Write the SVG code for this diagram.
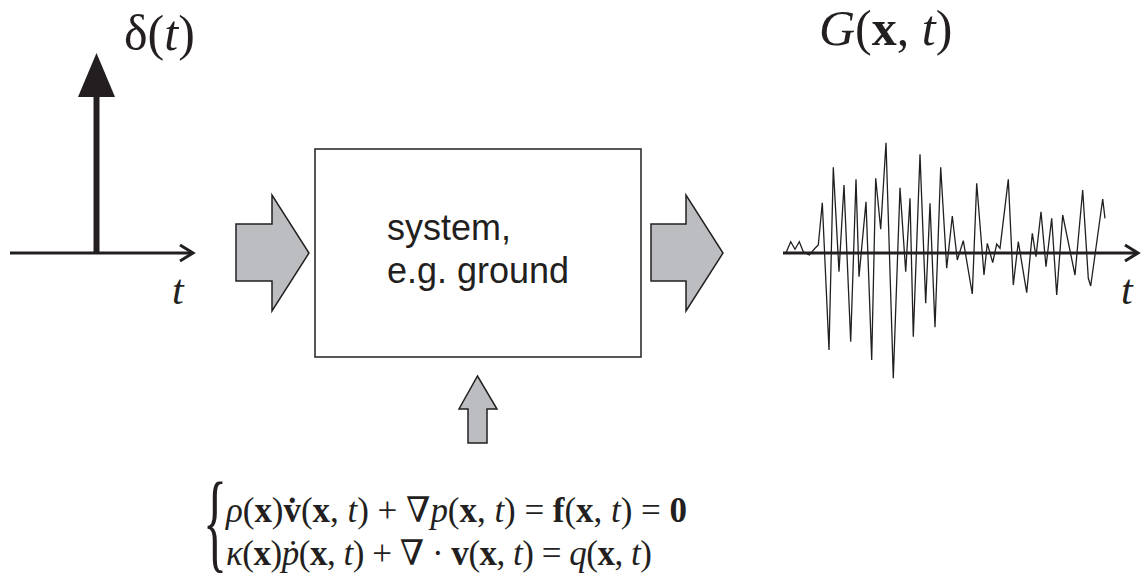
<svg xmlns="http://www.w3.org/2000/svg" width="1143" height="587" viewBox="0 0 1143 587">
<style>
.ink{stroke:#231f20;fill:none}
.block{fill:#bcbdc0;stroke:#231f20;stroke-width:1.5;stroke-linejoin:miter}
.serif{font-family:"Liberation Serif","DejaVu Serif",serif;fill:#231f20}
.sans{font-family:"Liberation Sans",Arial,sans-serif;fill:#231f20}
.it{font-style:italic}
.bf{font-weight:bold}
</style>
<rect width="1143" height="587" fill="#ffffff"/>

<g id="input-signal">
  <line class="ink" x1="10" y1="253" x2="192" y2="253" stroke-width="3"/>
  <polyline class="ink" points="180,245 193,253 180,261" stroke-width="3"/>
  <line class="ink" x1="96.5" y1="253" x2="96.5" y2="92" stroke-width="6"/>
  <polygon points="96.5,53 78,97 115,97" fill="#231f20"/>
  <text class="serif" x="124" y="50" font-size="50">δ(<tspan class="it">t</tspan>)</text>
  <text class="serif it" x="172" y="304" font-size="42">t</text>
</g>

<g id="system">
  <rect x="315" y="149" width="326" height="208" fill="#ffffff" stroke="#231f20" stroke-width="1.5"/>
  <text class="sans" x="387" y="240" font-size="36">system,</text>
  <text class="sans" x="387" y="283" font-size="36">e.g. ground</text>
</g>

<g id="output-signal">
  <line class="ink" x1="783" y1="253" x2="1137" y2="253" stroke-width="3"/>
  <polyline class="ink" points="1125,245 1138,253 1125,261" stroke-width="3"/>
  <polyline class="ink" stroke-width="1.3" stroke-linejoin="miter" points="786,252.7 790.7,241.7 795,249.3 799.3,241.7 803.3,251.7 809.3,255 815,248.3 818.3,245 822.3,202.7 829,350 833.3,167.3 839,271.7 844,185 850.7,341.7 856,179.3 859,276.7 866,201.7 871.7,360 875.7,178.3 880.7,229.3 886,142.7 893.3,378.3 900,187.7 905.7,271.7 910,198.3 913.3,336.7 920,154.3 925.7,303.3 930,203.3 935,327.3 940.7,167.3 946.7,268.3 952.3,216 957.3,260 963.3,240.7 972.3,294 976.7,183.3 984,275 987.3,243.3 992.7,262.7 996.7,244 1000,248.3 1008.3,179.3 1013.3,285 1018.3,241.7 1026.7,292.7 1032.3,233.3 1036,256.7 1041,211.7 1046,266.7 1051.7,218.3 1056.7,295 1062.7,215 1075,275 1082.7,190 1088.3,278.3 1090.7,286 1102.7,199 1105,218.3"/>
  <text class="serif" x="819" y="45" font-size="50"><tspan class="it">G</tspan>(<tspan class="bf">x</tspan>, <tspan class="it">t</tspan>)</text>
  <text class="serif it" x="1121" y="304" font-size="42">t</text>
</g>

<g id="connectors">
  <polygon class="block" points="236,224 272,224 272,195 309,253 272,311 272,281 236,281"/>
  <polygon class="block" points="651,224 686,224 686,195 723,253 686,311 686,281 651,281"/>
  <polygon class="block" points="468,443 468,409 459,409 477.5,376 497,409 487,409 487,443"/>
</g>

<g id="equation">
  <text class="serif" transform="translate(203,558) scale(1,2.2)" font-size="50">{</text>
  <text class="serif" x="226" y="522" font-size="35" textLength="461" lengthAdjust="spacing"><tspan class="it">ρ</tspan>(<tspan class="bf">x</tspan>)<tspan class="bf">v&#x307;</tspan>(<tspan class="bf">x</tspan>, <tspan class="it">t</tspan>) + ∇<tspan class="it">p</tspan>(<tspan class="bf">x</tspan>, <tspan class="it">t</tspan>) = <tspan class="bf">f</tspan>(<tspan class="bf">x</tspan>, <tspan class="it">t</tspan>) = <tspan class="bf">0</tspan></text>
  <text class="serif" x="226" y="565" font-size="35" textLength="426" lengthAdjust="spacing"><tspan class="it">κ</tspan>(<tspan class="bf">x</tspan>)<tspan class="it">p&#x307;</tspan>(<tspan class="bf">x</tspan>, <tspan class="it">t</tspan>) + ∇ · <tspan class="bf">v</tspan>(<tspan class="bf">x</tspan>, <tspan class="it">t</tspan>) = <tspan class="it">q</tspan>(<tspan class="bf">x</tspan>, <tspan class="it">t</tspan>)</text>
</g>
</svg>
